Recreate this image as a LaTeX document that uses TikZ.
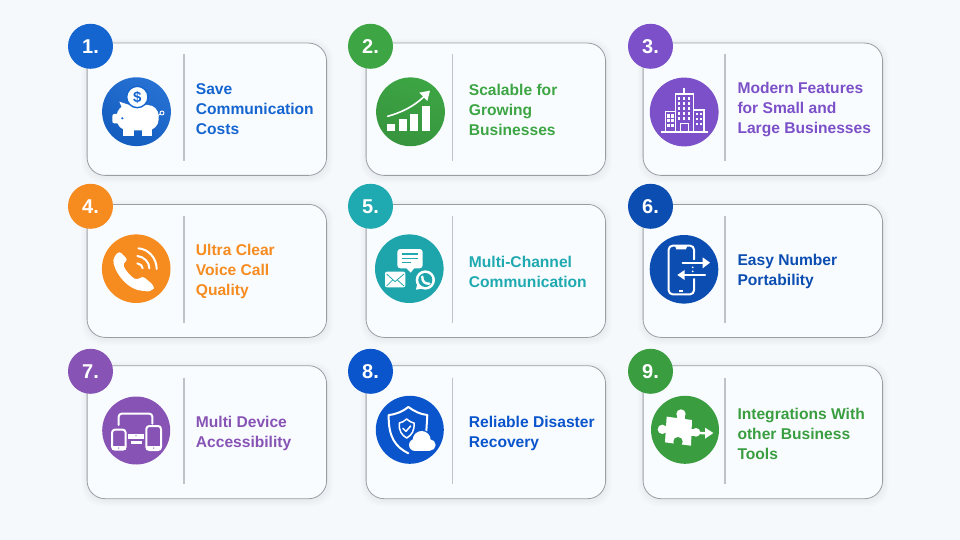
\documentclass[tikz,border=0pt]{standalone}
\usepackage{fontspec}
\setmainfont{Liberation Sans}
\definecolor{bgc}{HTML}{F5F9FC}
\definecolor{cardc}{HTML}{F9FCFF}
\definecolor{edgec}{HTML}{9A9EA3}
\definecolor{divc}{HTML}{BDC3C9}
\definecolor{ca}{HTML}{1565D0}
\definecolor{cb}{HTML}{3DA544}
\definecolor{cc}{HTML}{7B50C8}
\definecolor{cd}{HTML}{F68B1F}
\definecolor{ce}{HTML}{1FA9B0}
\definecolor{cf}{HTML}{0B4DB0}
\definecolor{cg}{HTML}{8753B5}
\definecolor{ch}{HTML}{0A55CC}
\definecolor{ci}{HTML}{3A9E41}
\tikzset{
  x=1pt,y=-1pt,
  cardbox/.style={draw=edgec,line width=.8pt,fill=cardc,rounded corners=18pt,minimum width=239.5pt,inner sep=0pt,anchor=north west},
  badge/.style={circle,inner sep=0pt,minimum size=45pt,text=white,font=\fontsize{20}{20}\selectfont\bfseries},
  disc/.style={circle,inner sep=0pt,minimum size=#1},
  divider/.style={draw=divc,line width=1.6pt},
  label/.style={anchor=base west,align=left,inner sep=0pt,font=\fontsize{15.6}{20}\selectfont\bfseries},
  iconline/.style={draw=white,line width=2pt,line cap=round,line join=round},
  iconfill/.style={fill=white,draw=none},
}
% id, left, top, bottom, badge x, badge y, colour, number
\newcommand{\cardunit}[8]{%
  \foreach \g in {1,...,6}{%
    \fill[black,opacity=.009,rounded corners=20pt] (#2-\g+1,#3-\g+2) rectangle (#2+239.5+\g+1,#4+\g+2);}
  \pgfmathsetlengthmacro{\cardh}{#4-#3}
  \node[cardbox,minimum height=\cardh] (#1) at (#2,#3) {};
  \node[badge,fill=#7] (#1b) at (#5,#6) {#8.};
}
% id, x, top, bottom
\newcommand{\divline}[4]{%
  \coordinate (#1t) at (#2,#3);
  \coordinate (#1u) at (#2,#4);
  \draw[divider] (#1t) -- (#1u);
}
\begin{document}
\begin{tikzpicture}
\useasboundingbox (0,0) rectangle (960,540);
\fill[bgc] (0,0) rectangle (960,540);

\cardunit{a}{86.7}{42.7}{175}{90.5}{46.3}{ca}{1}
\cardunit{b}{365.7}{42.7}{175}{370.5}{46.3}{cb}{2}
\cardunit{c}{642.7}{42.7}{175}{650.5}{46.3}{cc}{3}
\cardunit{d}{86.7}{204}{337}{90.5}{206.3}{cd}{4}
\cardunit{e}{365.7}{204}{337}{370.5}{206.3}{ce}{5}
\cardunit{f}{642.7}{204}{337}{650.5}{206.3}{cf}{6}
\cardunit{g}{86.7}{365.3}{498.3}{90.5}{371.3}{cg}{7}
\cardunit{h}{365.7}{365.3}{498.3}{370.5}{371.3}{ch}{8}
\cardunit{i}{642.7}{365.3}{498.3}{650.5}{371.3}{ci}{9}

\divline{a}{183.7}{54}{160.7}
\divline{b}{452.3}{54}{160.7}
\divline{c}{725}{54}{160.7}
\divline{d}{183.7}{216}{322.7}
\divline{e}{452.3}{216}{322.7}
\divline{f}{725}{216}{322.7}
\divline{g}{183.7}{377.7}{484.3}
\divline{h}{452.3}{377.7}{484.3}
\divline{i}{725}{377.7}{484.3}

\node[label,text=ca] (at) at (195.7,135) {Save\\Communication\\Costs};
\node[label,text=cb] (bt) at (468.7,136) {Scalable for\\Growing\\Businesses};
\node[label,text=cc] (ct) at (737.3,134) {Modern Features\\for Small and\\Large Businesses};
\node[label,text=cd] (dt) at (195.7,295) {Ultra Clear\\Voice Call\\Quality};
\node[label,text=ce] (et) at (468.7,287.3) {Multi-Channel\\Communication};
\node[label,text=cf] (ft) at (737.3,285.3) {Easy Number\\Portability};
\node[label,text=cg] (gt) at (195.7,447.3) {Multi Device\\Accessibility};
\node[label,text=ch] (ht) at (468.7,447.3) {Reliable Disaster\\Recovery};
\node[label,text=ci] (it) at (737.3,459.3) {Integrations With\\other Business\\Tools};

% icon discs
\node[disc=68.8pt,shading=axis,left color=ca!92!white,right color=ca!92!black,shading angle=-30] (ai) at (136.5,111.7) {};
\node[disc=68.8pt,shading=axis,left color=cb,right color=cb!90!black,shading angle=-20] (bi) at (410.5,111.8) {};
\node[disc=68.8pt,fill=cc] (ci) at (684.2,112) {};
\node[disc=68.6pt,fill=cd] (di) at (136.2,268.7) {};
\node[disc=68.6pt,fill=ce!97!black] (ei) at (409.3,268.7) {};
\node[disc=68.6pt,fill=cf] (fi) at (684,269.3) {};
\node[disc=68pt,fill=cg] (gi) at (136.2,430.5) {};
\node[disc=68pt,fill=ch] (hi) at (409.8,429.8) {};
\node[disc=68pt,fill=ci] (ii) at (685,429.8) {};

% 1 piggy bank
\begin{scope}[shift={(60,15)},scale=1/3]
  \fill[iconfill,rounded corners=11pt] (170,270) rectangle (296,346);
  \fill[iconfill,rounded corners=2pt] (157,297) rectangle (185,325);
  \fill[iconfill] (190,340) rectangle (222,362);
  \fill[iconfill] (245,340) rectangle (277,362);
  \fill[iconfill] (178,260) -- (208,270) -- (190,288) -- cycle;
  \fill[ca] (187,310) circle (3.5);
  \draw[white,line width=.9pt] (293,303) -- (300,297);
  \draw[white,line width=.9pt] (306,294) circle (6);
  \draw[ca,line width=1.4pt,fill=white] (232,246) circle (32);
  \node[inner sep=0pt,text=ca,font=\fontsize{15}{15}\selectfont\bfseries] (acoin) at (232,246) {\$};
\end{scope}

% 2 growth chart
\begin{scope}[shift={(340,15)},scale=1/3]
  \fill[iconfill] (141,328) rectangle (166,348);
  \fill[iconfill] (176,313) rectangle (200,348);
  \fill[iconfill] (210,296) rectangle (234,348);
  \fill[iconfill] (245,274) rectangle (269,348);
  \draw[white,line width=1.6pt,line cap=round] (143,304) .. controls (185,292) and (220,275) .. (252,245);
  \fill[iconfill] (270,227) -- (262,258) -- (238,233) -- cycle;
\end{scope}

% 3 buildings
\begin{scope}[shift={(620,15)},scale=1/3]
  \draw[white,line width=1.8pt] (122,350) -- (264,350);
  \draw[white,line width=1.5pt] (192,220) -- (192,237);
  \draw[white,line width=1.6pt] (166,350) -- (166,237) -- (220,237) -- (220,350);
  \draw[white,line width=1.6pt] (166,290) -- (136,290) -- (136,350);
  \draw[white,line width=1.6pt] (220,285) -- (252,285) -- (252,350);
  \foreach \xp in {177,192,207}{\foreach \yp in {250,265,280,295,310}{\fill[iconfill] (\xp-4,\yp-5) rectangle (\xp+4,\yp+5);}}
  \draw[white,line width=1.6pt] (181,350) -- (181,326) -- (205,326) -- (205,350);
  \foreach \xp in {146,157}{\foreach \yp in {303,317,331}{\fill[iconfill] (\xp-4,\yp-5) rectangle (\xp+4,\yp+5);}}
  \foreach \xp in {231,243}{\foreach \yp in {298,312,326}{\fill[iconfill] (\xp-3,\yp-3) rectangle (\xp+3,\yp+3);}}
\end{scope}

% 4 phone with waves
\begin{scope}[shift={(60,180)},scale=1/3]
  \fill[iconfill,rounded corners=3pt] (161,232) .. controls (158,265) and (195,328) .. (255,333) .. controls (270,335) and (282,325) .. (281,316) -- (248,288) -- (232,300) .. controls (212,290) and (194,268) .. (189,250) -- (204,240) -- (178,213) -- cycle;
  \draw[iconline] (235,205) .. controls (266,207) and (290,235) .. (290,267);
  \draw[iconline] (232,228) .. controls (252,230) and (268,246) .. (268,265);
  \draw[iconline] (232,250) .. controls (241,251) and (248,258) .. (248,265);
\end{scope}

% 5 channels
\begin{scope}[shift={(340,180)},scale=1/3]
  \fill[iconfill,rounded corners=3pt] (172,207) rectangle (248,265);
  \fill[iconfill] (197,262) -- (212,278) -- (225,262) -- cycle;
  \draw[ce,line width=1.1pt] (185,222) -- (235,222) (185,235) -- (235,235) (185,248) -- (212,248);
  \fill[iconfill,rounded corners=2pt] (135,275) rectangle (196,322);
  \draw[ce,line width=.8pt] (140,282) -- (165,305) -- (192,282) (140,318) -- (158,300) (192,318) -- (172,300);
  \fill[iconfill] (256,300) circle (29);
  \fill[iconfill] (228,329) -- (233,305) -- (252,325) -- cycle;
  \fill[ce!97!black] (256,300) circle (21);
  \draw[white,line width=2.4pt,line cap=round] (247,290) .. controls (246,305) and (255,312) .. (268,311);
\end{scope}

% 6 phone and arrows
\begin{scope}[shift={(620,180)},scale=1/3]
  \draw[iconline,rounded corners=4pt] (222,238) -- (222,197) -- (146,197) -- (146,343) -- (222,343) -- (222,297);
  \fill[iconfill] (165,197) -- (202,197) -- (198,208) -- (169,208) -- cycle;
  \fill[iconfill] (176,329) rectangle (190,335);
  \draw[iconline] (188,248) -- (252,248);
  \fill[iconfill] (248,232) -- (270,248) -- (248,265) -- cycle;
  \draw[iconline] (255,285) -- (190,285);
  \fill[iconfill] (194,270) -- (172,285) -- (194,300) -- cycle;
  \fill[iconfill] (218,262) circle (3);
  \fill[iconfill] (218,274) circle (3);
\end{scope}

% 7 devices
\begin{scope}[shift={(60,345)},scale=1/3]
  \draw[iconline,rounded corners=3pt] (176,240) -- (176,206) -- (277,206) -- (277,236);
  \fill[iconfill] (204,266) rectangle (252,282);
  \fill[iconfill] (212,288) rectangle (246,297);
  \fill[cg] (228,272) circle (2);
  \draw[iconline,rounded corners=3pt] (156,254) rectangle (197,314);
  \fill[iconfill] (156,304) rectangle (197,314);
  \fill[cg] (176,309) circle (2);
  \draw[iconline,rounded corners=3pt] (259,243) rectangle (303,315);
  \fill[iconfill] (259,304) rectangle (303,315);
  \fill[cg] (281,309) circle (2);
\end{scope}

% 8 shield and cloud
\begin{scope}[shift={(340,345)},scale=1/3]
  \draw[iconline] (205,325) .. controls (165,305) and (145,275) .. (146,210) .. controls (170,208) and (190,198) .. (205,186) .. controls (222,198) and (240,208) .. (262,210) -- (259,258);
  \draw[iconline,line width=1.5pt] (200,222) .. controls (190,230) and (185,233) .. (178,234) .. controls (176,258) and (185,270) .. (200,279) .. controls (215,270) and (224,258) .. (222,234) .. controls (215,233) and (210,230) .. (200,222) -- cycle;
  \draw[iconline,line width=1.5pt] (189,250) -- (198,259) -- (212,243);
  \begin{scope}[every path/.style={draw=ch,line width=2.4pt,fill=ch}]
    \path (245,285) circle (27);
    \path (225,300) circle (18);
    \path (270,300) circle (17);
  \end{scope}
  \fill[iconfill] (245,285) circle (27);
  \fill[iconfill] (225,300) circle (18);
  \fill[iconfill] (270,300) circle (17);
  \fill[iconfill] (225,295) rectangle (270,318);
\end{scope}

% 9 puzzle and arrow
\begin{scope}[shift={(620,345)},scale=1/3]
  \fill[iconfill] (140,215) -- (216,225) -- (213,302) -- (135,292) -- cycle;
  \fill[iconfill] (183,207) circle (14);
  \fill[iconfill] (172,210) rectangle (194,228);
  \fill[iconfill] (127,253) circle (14);
  \fill[iconfill] (130,243) rectangle (150,263);
  \fill[iconfill] (228,262) circle (13);
  \fill[iconfill] (208,252) rectangle (226,272);
  \fill[ci] (174,290) circle (14);
  \fill[ci] (164,290) rectangle (184,302);
  \draw[white,line width=2.4pt] (240,264) -- (258,265);
  \fill[iconfill] (255,248) -- (280,264) -- (255,281) -- cycle;
\end{scope}
\end{tikzpicture}
\end{document}
